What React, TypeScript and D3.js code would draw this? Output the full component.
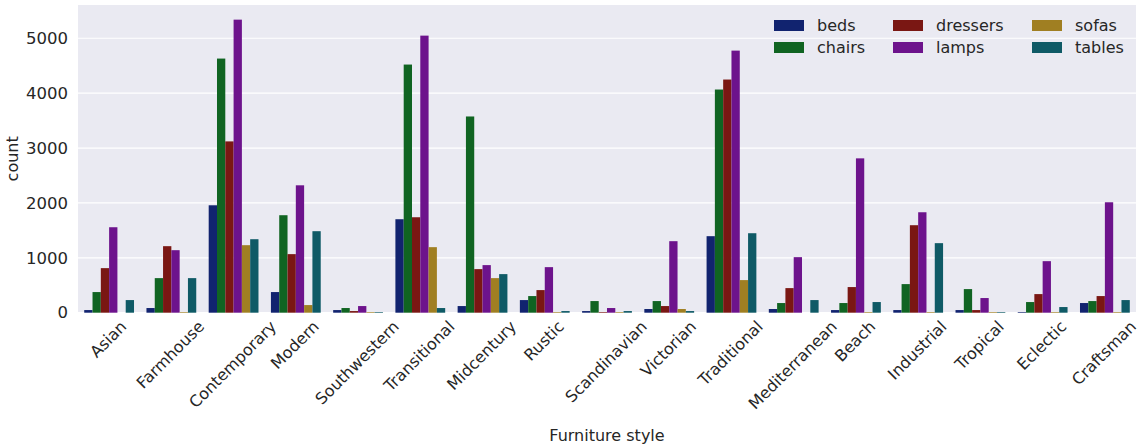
import React, { useEffect, useRef } from "react";
import * as d3 from "d3";

const styles = ["Asian","Farmhouse","Contemporary","Modern","Southwestern","Transitional","Midcentury","Rustic","Scandinavian","Victorian","Traditional","Mediterranean","Beach","Industrial","Tropical","Eclectic","Craftsman"];
const seriesNames = ["beds","chairs","dressers","lamps","sofas","tables"];
const beds =     [48, 85, 1957, 376, 48, 1703, 121, 230, 30, 67, 1394, 67, 48, 48, 48, 12, 176];
const chairs =   [376, 630, 4630, 1776, 85, 4521, 3575, 303, 212, 212, 4066, 176, 176, 521, 430, 194, 212];
const dressers = [812, 1212, 3121, 1067, 30, 1739, 794, 412, 12, 121, 4248, 448, 467, 1594, 48, 339, 303];
const lamps =    [1557, 1139, 5339, 2321, 121, 5048, 867, 830, 85, 1303, 4775, 1012, 2812, 1830, 267, 939, 2012];
const sofas =    [0, 12, 1230, 139, 12, 1194, 630, 12, 12, 67, 594, 0, 12, 12, 12, 12, 12];
const tables =   [230, 630, 1339, 1485, 12, 85, 703, 30, 30, 30, 1448, 230, 194, 1267, 12, 103, 230];
const seriesValues = [beds, chairs, dressers, lamps, sofas, tables];
const colors = ["#11236f", "#106422", "#7a1713", "#6d138c", "#a07f22", "#0f5a66"];
const yTicks = [0, 1000, 2000, 3000, 4000, 5000];

const W = 1140, H = 447;
const FONT = "'DejaVu Sans', sans-serif";
const TXT = "#262626";

export default function App() {
  const ref = useRef<SVGSVGElement>(null);
  useEffect(() => {
    const svg = d3.select(ref.current);
    svg.selectAll("*").remove();
    const left = 78, right = 1136, top = 5, bottom = 312.7;
    const x = d3.scaleBand().domain(styles).range([left, right]).paddingInner(0).paddingOuter(0);
    const y = d3.scaleLinear().domain([0, 5606]).range([bottom, top]);
    const inner = d3.scaleBand().domain(seriesNames).range([0, x.bandwidth() * 0.8]);
    const off = x.bandwidth() * 0.1;
    const fs = 16;

    svg.append("rect").attr("x", left).attr("y", top).attr("width", right - left).attr("height", bottom - top).attr("fill", "#eaeaf2");
    svg.append("g").selectAll("line").data(yTicks).join("line")
      .attr("x1", left).attr("x2", right).attr("y1", d => y(d)).attr("y2", d => y(d))
      .attr("stroke", "#ffffff").attr("stroke-width", 1.2);

    seriesNames.forEach((s, si) => {
      svg.append("g").selectAll("rect").data(seriesValues[si]).join("rect")
        .attr("x", (d, i) => (x(styles[i]) as number) + off + (inner(s) as number))
        .attr("width", inner.bandwidth())
        .attr("y", d => y(d))
        .attr("height", d => y(0) - y(d))
        .attr("fill", colors[si]);
    });

    svg.append("g").selectAll("text").data(yTicks).join("text")
      .attr("x", 68).attr("y", d => y(d)).attr("dy", "0.35em")
      .attr("text-anchor", "end").attr("font-family", FONT).attr("font-size", 16.5).attr("fill", TXT)
      .text(d => String(d));

    const g = svg.append("g");
    styles.forEach(s => {
      const cx = (x(s) as number) + x.bandwidth() / 2 - 1;
      const t = g.append("text").attr("font-family", FONT).attr("font-size", fs).attr("fill", TXT)
        .attr("text-anchor", "middle").attr("dy", "0.35em").text(s);
      const L = (t.node() as SVGTextElement).getComputedTextLength();
      const h = fs * 1.17;
      const cy = 317 + (L + h) * Math.SQRT1_2 / 2;
      t.attr("transform", `translate(${cx},${cy}) rotate(-45)`);
    });

    svg.append("text").attr("x", (left + right) / 2).attr("y", 441)
      .attr("text-anchor", "middle").attr("font-family", FONT).attr("font-size", fs).attr("fill", TXT)
      .text("Furniture style");
    svg.append("text").attr("transform", `translate(18,${(top + bottom) / 2}) rotate(-90)`)
      .attr("text-anchor", "middle").attr("font-family", FONT).attr("font-size", fs).attr("fill", TXT)
      .text("count");

    const colX = [774, 893, 1032];
    const rowY = [25.5, 47.5];
    seriesNames.forEach((s, i) => {
      const c = Math.floor(i / 2), r = i % 2;
      svg.append("rect").attr("x", colX[c]).attr("y", rowY[r] - 5.5).attr("width", 30).attr("height", 11).attr("fill", colors[i]);
      svg.append("text").attr("x", colX[c] + 43).attr("y", rowY[r]).attr("dy", "0.35em")
        .attr("font-family", FONT).attr("font-size", fs).attr("fill", TXT).text(s);
    });
  }, []);
  return <svg ref={ref} width={W} height={H} style={{ position: "absolute", left: 0, top: 0 }} />;
}
